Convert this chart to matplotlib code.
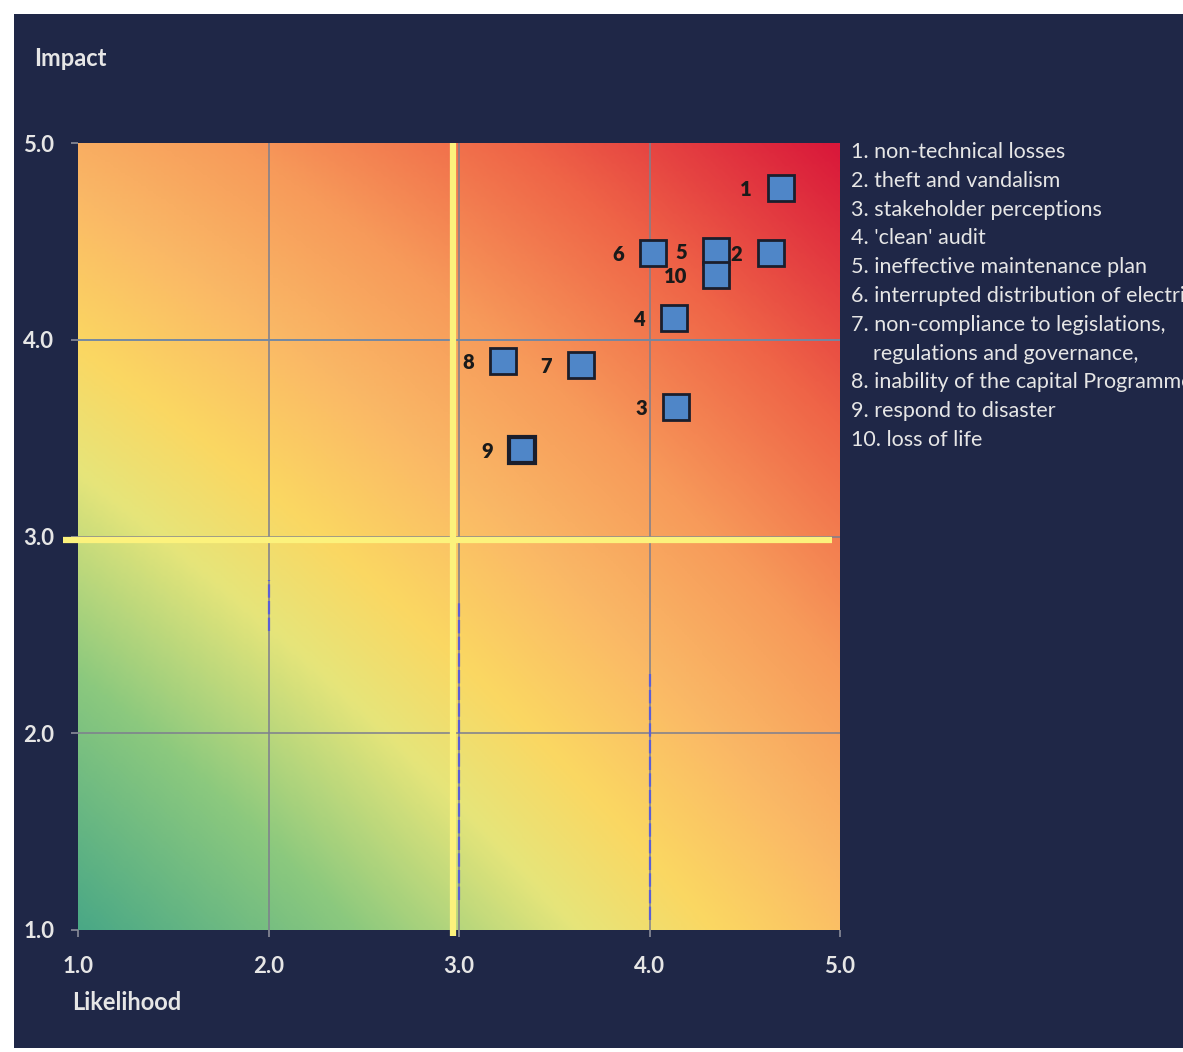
import matplotlib.pyplot as plt
import numpy as np
from matplotlib.colors import LinearSegmentedColormap
from matplotlib.patches import Rectangle

# Risk register: likelihood / impact per risk
risk_ids = ["1", "2", "3", "4", "5", "6", "7", "8", "9", "10"]
likelihood = [4.69, 4.64, 4.14, 4.13, 4.35, 4.02, 3.64, 3.23, 3.33, 4.35]
impact = [4.77, 4.44, 3.66, 4.11, 4.45, 4.44, 3.87, 3.89, 3.44, 4.33]

risk_names = [
    "1. non-technical losses",
    "2. theft and vandalism",
    "3. stakeholder perceptions",
    "4. 'clean' audit",
    "5. ineffective maintenance plan",
    "6. interrupted distribution of electricity",
    "7. non-compliance to legislations,\n    regulations and governance,",
    "8. inability of the capital Programme",
    "9. respond to disaster",
    "10. loss of life",
]

ticks = [1.0, 2.0, 3.0, 4.0, 5.0]
threshold_x = 2.97
threshold_y = 2.98

# blue-ish stretches on the lower vertical grid lines: (x, y0, y1)
grid_marks = [(2.0, 2.52, 2.78), (3.0, 1.15, 2.67), (4.0, 1.05, 2.3)]

navy = "#1f2747"
txt = "#e6e6e6"
plt.rcParams['font.family'] = ['Lato', 'DejaVu Sans']

fig = plt.figure(figsize=(11.83, 10.52), dpi=100)
fig.patch.set_facecolor("white")
fig.patches.append(Rectangle((14 / 1183, 4 / 1052), 1 - 14 / 1183, 1 - 18 / 1052,
                             transform=fig.transFigure, facecolor=navy,
                             edgecolor="none", zorder=-5))

ax = fig.add_axes([78 / 1183, 1 - 930 / 1052, 762 / 1183, 787 / 1052])
ax.set_zorder(2)
ax.set_facecolor(navy)

# heat-map background: green (low) -> yellow -> orange -> red (high)
cmap = LinearSegmentedColormap.from_list("risk", [
    (0.0, "#4aa886"), (0.2, "#8cc97e"), (0.36, "#e6e57a"), (0.46, "#fbd762"),
    (0.58, "#fab866"), (0.70, "#f79a5a"), (0.84, "#ef6447"), (1.0, "#d9183a")])
gx, gy = np.meshgrid(np.linspace(0, 1, 300), np.linspace(0, 1, 300))
score = 0.55 * gx + 0.62 * gy - 0.17 * gx * gy
ax.imshow(score, extent=[1, 5, 1, 5], origin="lower", cmap=cmap,
          vmin=0, vmax=1, aspect="auto", interpolation="bilinear", zorder=0)

for t in ticks[1:-1]:
    ax.axvline(t, color="#7e7f8e", lw=1.4, alpha=0.8, zorder=1)
    ax.axhline(t, color="#7e7f8e", lw=1.4, alpha=0.8, zorder=1)
ax.axhline(4.0, color="#6f8aa8", lw=1.4, alpha=0.8, zorder=1)
for gxm, y0, y1 in grid_marks:
    ax.plot([gxm, gxm], [y0, y1], color="#5a5fd6", lw=1.6, ls=(0, (6, 1.5)),
            zorder=1.5)

# quadrant split lines
ax.plot([threshold_x, threshold_x], [0.97, 5.0], color="#fcf27c", lw=4.5,
        clip_on=False, zorder=2, solid_capstyle="butt")
ax.plot([0.92, 4.96], [threshold_y, threshold_y], color="#fcf27c", lw=4.5,
        clip_on=False, zorder=2, solid_capstyle="butt")

for i, (x, y) in enumerate(zip(likelihood, impact)):
    ax.plot(x, y, "s", ms=19, mfc="#4f86c8", mec="#1b1e2c",
            mew=3 if risk_ids[i] == "9" else 2, zorder=4)
    ax.annotate(risk_ids[i], (x, y), xytext=(-21, -1), textcoords="offset points",
                ha="right", va="center", fontsize=14.5, fontweight="heavy",
                color="#1a1a1a", zorder=5)

ax.set_xlim(1, 5)
ax.set_ylim(1, 5)
ax.set_xticks(ticks)
ax.set_yticks(ticks)
ax.set_xticklabels([f"{t:.1f}" for t in ticks], fontweight="bold")
ax.set_yticklabels([f"{t:.1f}" for t in ticks], fontweight="bold",
                   va="center_baseline")
ax.tick_params(colors="#8a8c99", length=5, width=1.2, labelsize=16,
               labelcolor=txt, pad=12)
ax.tick_params(axis="x", pad=14)
for s in ax.spines.values():
    s.set_visible(False)

fig.text(34 / 1183, 1 - 58 / 1052, "Impact", color=txt, fontsize=17,
         fontweight="bold", va="center", ha="left")
fig.text(72 / 1183, 1 - 1003 / 1052, "Likelihood", color=txt, fontsize=17,
         fontweight="bold", va="center", ha="left")

fig.text(851 / 1183, 1 - 142 / 1052, "\n".join(risk_names), color=txt,
         fontsize=15.5, va="top", ha="left", linespacing=1.55)

fig.savefig("out.png", dpi=100, facecolor=fig.get_facecolor())
